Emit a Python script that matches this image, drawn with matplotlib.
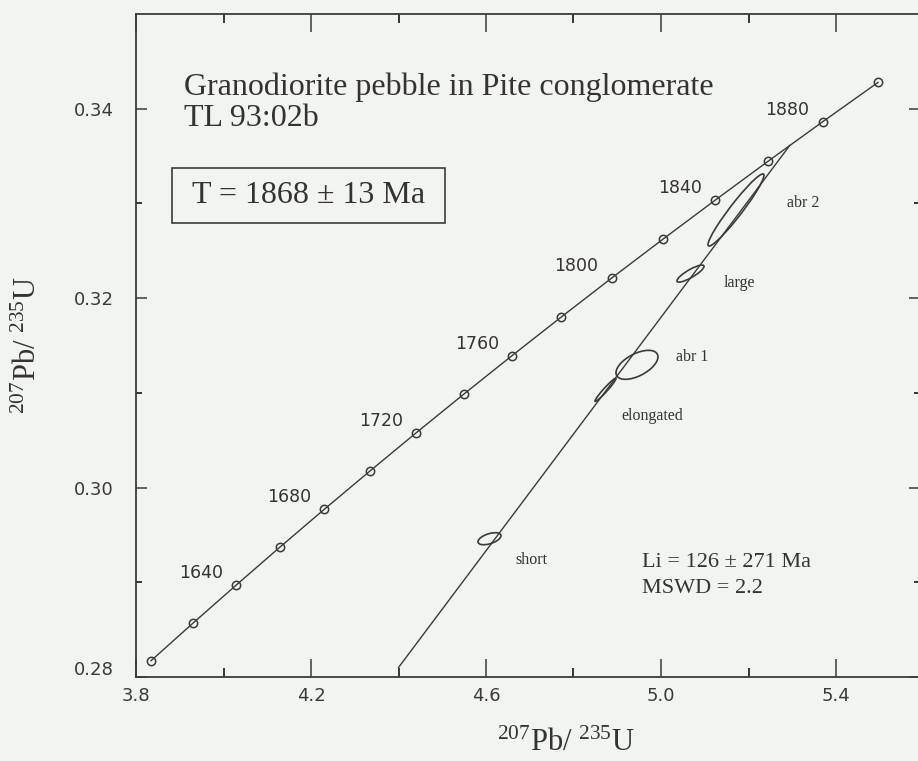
import numpy as np
import matplotlib
matplotlib.use('Agg')
import matplotlib.pyplot as plt
from matplotlib.patches import Ellipse, Rectangle
from matplotlib.transforms import ScaledTranslation

# concordia markers, every 20 Ma (x = 207Pb/235U, y = 206Pb/238U)
ages = [1600, 1620, 1640, 1660, 1680, 1700, 1720, 1740,
        1760, 1780, 1800, 1820, 1840, 1860, 1880, 1900]
conc_x = [3.8344, 3.9306, 4.0287, 4.1287, 4.2307, 4.3348, 4.4409, 4.5491,
          4.6595, 4.7721, 4.8869, 5.0040, 5.1234, 5.2452, 5.3694, 5.4961]
conc_y = [0.28172, 0.28570, 0.28969, 0.29370, 0.29772, 0.30175, 0.30580, 0.30986,
          0.31393, 0.31801, 0.32211, 0.32621, 0.33033, 0.33447, 0.33862, 0.34278]
label_ages = [1640, 1680, 1720, 1760, 1800, 1840, 1880]

# discordia line (lower end at plot edge, upper end at 1868 Ma intercept)
disc_x = [4.400, 5.2945]
disc_y = [0.2810, 0.33613]

# analyses: name, 207/235, err, 206/238, err, rho
names = ['abr 2', 'large', 'abr 1', 'elongated', 'short']
ratio75 = [5.1714, 5.0674, 4.9451, 4.8731, 4.6080]
err75 = [0.0640, 0.0309, 0.0480, 0.0240, 0.0263]
ratio68 = [0.32931, 0.32259, 0.31296, 0.31032, 0.29460]
err68 = [0.00381, 0.00090, 0.00153, 0.00122, 0.000635]
rho = [0.96, 0.85, 0.55, 0.97, 0.50]
name_pos = [(0.851, 0.715), (0.769, 0.594), (0.710, 0.483),
            (0.659, 0.394), (0.5045, 0.1765)]

xticks = [3.8, 4.2, 4.6, 5.0, 5.4]
xminor = [4.0, 4.4, 4.8, 5.2]
yticks = [0.28, 0.30, 0.32, 0.34]
yminor = [0.29, 0.31, 0.33]

BG = '#f2f4f0'
LC = '#3a3a3a'
TC = '#333333'
SERIF = 'Liberation Serif'

plt.rcParams['mathtext.fontset'] = 'custom'
plt.rcParams['mathtext.rm'] = SERIF
plt.rcParams['mathtext.it'] = SERIF + ':italic'

fig = plt.figure(figsize=(9.18, 7.61), dpi=100, facecolor=BG)
ax = fig.add_axes([136 / 918, 1 - 677 / 761, 784 / 918, 663 / 761])
ax.set_facecolor(BG)

ax.plot(conc_x, conc_y, '-', color=LC, lw=1.0, marker='o', ms=6,
        mfc='none', mec=LC, mew=1.1, zorder=3)
for a in label_ages:
    i = ages.index(a)
    ax.annotate(str(a), (conc_x[i], conc_y[i]), xytext=(-35, 12),
                textcoords='offset pixels', ha='center', va='center',
                fontsize=12.5, color=TC)

ax.plot(disc_x, disc_y, '-', color=LC, lw=1.0, zorder=2)

# error ellipses from errors + correlation
for k in range(len(names)):
    sx, sy, r = err75[k], err68[k], rho[k]
    cov = np.array([[sx * sx, r * sx * sy], [r * sx * sy, sy * sy]])
    vals, vecs = np.linalg.eigh(cov)
    ang = np.degrees(np.arctan2(vecs[1, 1], vecs[0, 1]))
    ax.add_patch(Ellipse((ratio75[k], ratio68[k]), 2 * np.sqrt(vals[1]),
                         2 * np.sqrt(vals[0]), angle=ang, fill=False,
                         ec=LC, lw=1.2, zorder=4))
    ax.text(name_pos[k][0], name_pos[k][1], names[k], transform=ax.transAxes,
            ha='center', va='center', family=SERIF, fontsize=11.5, color=TC)

ax.set_xlim(3.8, 5.5920)
ax.set_ylim(0.28, 0.35)
ax.set_xticks(xticks)
ax.set_xticklabels([f'{v:.1f}' for v in xticks])
ax.set_xticks(xminor, minor=True)
ax.set_yticks(yticks)
ax.set_yticklabels([f'{v:.2f}' for v in yticks])
ax.set_yticks(yminor, minor=True)

ax.tick_params(axis='x', which='major', direction='in', length=13, width=1.1,
               top=True, bottom=True, pad=7, labelsize=13, colors=LC)
ax.tick_params(axis='x', which='minor', direction='in', length=6.5, width=1.1,
               top=True, bottom=True)
ax.tick_params(axis='y', which='major', direction='in', length=8, width=1.1,
               left=True, right=True, pad=16, labelsize=13, colors=LC)
ax.tick_params(axis='y', which='minor', direction='in', length=4.3, width=1.1,
               left=True, right=True)
for s in ax.spines.values():
    s.set_color(LC)
    s.set_linewidth(1.3)

# lowest y label sits a bit above its tick
lab = ax.yaxis.get_major_ticks()[0].label1
lab.set_transform(lab.get_transform() + ScaledTranslation(0, 9 / 100, fig.dpi_scale_trans))

ax.set_xlabel(r'$^{207}$Pb/ $^{235}$U', family=SERIF, fontsize=22, color=TC)
ax.xaxis.set_label_coords((566 - 136) / 784, (677 - 743) / 663)
ax.xaxis.label.set_va('center')
ax.set_ylabel(r'$^{207}$Pb/ $^{235}$U', family=SERIF, fontsize=22, color=TC)
ax.yaxis.set_label_coords((28 - 136) / 784, 0.5)
ax.yaxis.label.set_va('center')

ax.text(0.0613, 0.890, 'Granodiorite pebble in Pite conglomerate', transform=ax.transAxes,
        ha='left', va='center', family=SERIF, fontsize=23, color=TC)
ax.text(0.0613, 0.843, 'TL 93:02b', transform=ax.transAxes,
        ha='left', va='center', family=SERIF, fontsize=23, color=TC)
ax.add_patch(Rectangle((0.046, 0.6848), 0.3482, 0.083, transform=ax.transAxes,
                       fill=False, ec=LC, lw=1.2))
ax.text(0.2200, 0.7262, 'T = 1868 ± 13 Ma', transform=ax.transAxes,
        ha='center', va='center', family=SERIF, fontsize=23, color=TC)
ax.text(0.645, 0.172, 'Li = 126 ± 271 Ma', transform=ax.transAxes,
        ha='left', va='center', family=SERIF, fontsize=16, color=TC)
ax.text(0.645, 0.134, 'MSWD = 2.2', transform=ax.transAxes,
        ha='left', va='center', family=SERIF, fontsize=16, color=TC)

fig.savefig('out.png', dpi=100, facecolor=BG)
